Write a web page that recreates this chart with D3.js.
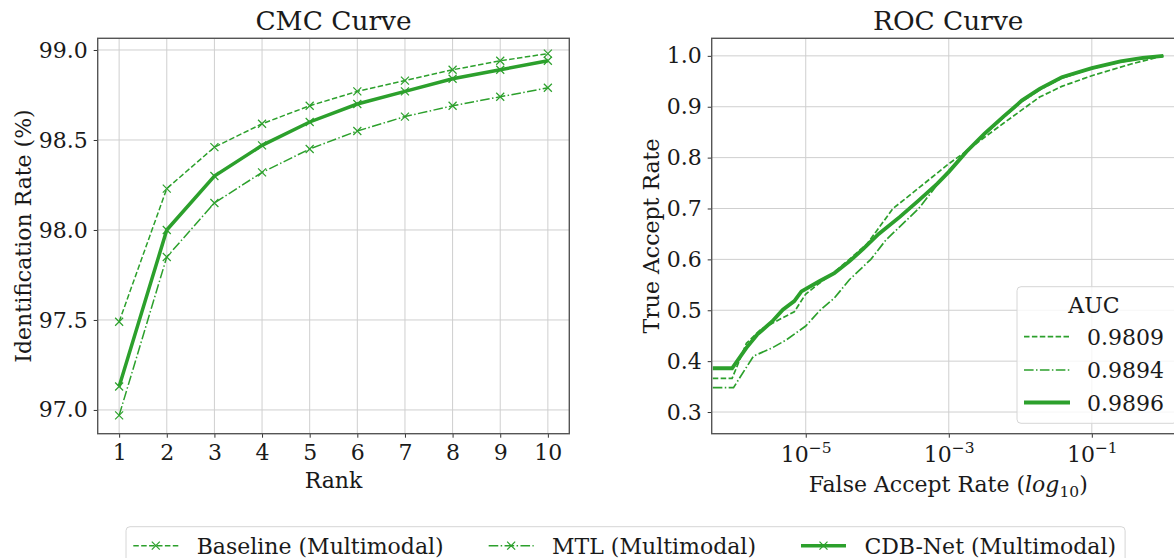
<!DOCTYPE html>
<html>
<head>
<meta charset="utf-8">
<script src="https://cdn.jsdelivr.net/npm/d3@7"></script>
<style>
  body { margin: 0; background: #fff; }
  svg text { font-family: "DejaVu Serif", serif; fill: #1a1a1a; }
</style>
</head>
<body>
<svg width="1174" height="558"></svg>
<script>
// ---- data ----
const ranks = [1, 2, 3, 4, 5, 6, 7, 8, 9, 10];
const cmcBaseline = [97.49, 98.23, 98.46, 98.59, 98.69, 98.77, 98.83, 98.89, 98.94, 98.98];
const cmcMTL      = [96.97, 97.85, 98.15, 98.32, 98.45, 98.55, 98.63, 98.69, 98.74, 98.79];
const cmcCDB      = [97.13, 98.00, 98.30, 98.47, 98.60, 98.70, 98.77, 98.84, 98.89, 98.94];
const cmcYTicks = [97.0, 97.5, 98.0, 98.5, 99.0];

// ROC: false accept rate as log10 exponent, true accept rate
const rocBaselineLogFar = [-6.30, -6.03, -5.83, -5.63, -5.42, -5.16, -5.00, -4.80, -4.60, -4.39, -4.14, -3.78, -3.52, -3.00, -2.80, -2.50, -2.24, -1.73, -1.42, -1.00, -0.45, 0.00];
const rocBaselineTar    = [0.366, 0.366, 0.435, 0.462, 0.478, 0.497, 0.532, 0.554, 0.575, 0.600, 0.631, 0.700, 0.729, 0.788, 0.808, 0.840, 0.867, 0.919, 0.940, 0.961, 0.984, 1.000];
const rocMTLLogFar = [-6.30, -6.01, -5.73, -5.47, -5.27, -5.00, -4.80, -4.60, -4.39, -4.09, -3.88, -3.42, -3.11, -2.75, -2.50, -2.24, -1.98, -1.73, -1.42, -1.00, -0.60, 0.00];
const rocMTLTar    = [0.348, 0.348, 0.410, 0.426, 0.442, 0.469, 0.500, 0.524, 0.560, 0.600, 0.638, 0.700, 0.756, 0.814, 0.845, 0.878, 0.910, 0.933, 0.956, 0.975, 0.988, 1.000];
const rocCDBLogFar = [-6.30, -6.03, -5.83, -5.68, -5.47, -5.32, -5.16, -5.06, -4.81, -4.60, -4.39, -4.20, -3.98, -3.68, -3.42, -3.16, -3.00, -2.75, -2.50, -2.24, -1.98, -1.73, -1.42, -1.00, -0.60, -0.29, 0.00];
const rocCDBTar    = [0.386, 0.386, 0.426, 0.452, 0.478, 0.501, 0.518, 0.537, 0.557, 0.573, 0.596, 0.620, 0.650, 0.684, 0.716, 0.749, 0.772, 0.812, 0.847, 0.880, 0.912, 0.935, 0.958, 0.976, 0.989, 0.996, 1.000];
const rocXTickExps = [-5, -3, -1];
const rocYTicks = [0.3, 0.4, 0.5, 0.6, 0.7, 0.8, 0.9, 1.0];

const seriesNames = ["Baseline (Multimodal)", "MTL (Multimodal)", "CDB-Net (Multimodal)"];
const aucLabels = ["0.9809", "0.9894", "0.9896"];

// ---- styles ----
const green = "#2ca02c";
const styles = [
  { dash: "5.5,2.4", width: 1.5 },
  { dash: "9.6,2.4,1.5,2.4", width: 1.5 },
  { dash: null, width: 3.5 }
];
const fs = 22;

const svg = d3.select("svg");
const cmcBox = { left: 97.7, right: 569.3, top: 38.3, bottom: 433.7 };
const rocBox = { left: 711.7, right: 1184.8, top: 38.3, bottom: 433.7 };

function frame(g, box) {
  g.append("rect")
    .attr("x", box.left).attr("y", box.top)
    .attr("width", box.right - box.left).attr("height", box.bottom - box.top)
    .attr("fill", "none").attr("stroke", "#555").attr("stroke-width", 1.4);
}

function xMarker(sel, size) {
  sel.attr("d", `M${-size},${-size}L${size},${size}M${-size},${size}L${size},${-size}`)
    .attr("fill", "none").attr("stroke", green).attr("stroke-width", 1.2);
}

// ---- CMC ----
const cmc = svg.append("g");
const xC = d3.scaleLinear().domain([0.55, 10.45]).range([cmcBox.left, cmcBox.right]);
const yC = d3.scaleLinear().domain([96.868, 99.065]).range([cmcBox.bottom, cmcBox.top]);

cmc.append("g").selectAll("line.gx").data(ranks).join("line")
  .attr("x1", d => xC(d)).attr("x2", d => xC(d))
  .attr("y1", cmcBox.top).attr("y2", cmcBox.bottom)
  .attr("stroke", "#cfcfcf").attr("stroke-width", 1);
cmc.append("g").selectAll("line.gy").data(cmcYTicks).join("line")
  .attr("x1", cmcBox.left).attr("x2", cmcBox.right)
  .attr("y1", d => yC(d)).attr("y2", d => yC(d))
  .attr("stroke", "#cfcfcf").attr("stroke-width", 1);

const cmcAxisX = cmc.append("g").attr("transform", `translate(0,${cmcBox.bottom})`)
  .call(d3.axisBottom(xC).tickValues(ranks).tickSize(4).tickPadding(6));
const cmcAxisY = cmc.append("g").attr("transform", `translate(${cmcBox.left},0)`)
  .call(d3.axisLeft(yC).tickValues(cmcYTicks).tickFormat(d3.format(".1f")).tickSize(4).tickPadding(6));
[cmcAxisX, cmcAxisY].forEach(a => {
  a.select(".domain").remove();
  a.selectAll(".tick line").attr("stroke", "#333");
  a.selectAll(".tick text").attr("font-size", fs).attr("font-family", "DejaVu Serif").attr("fill", "#1a1a1a");
});
cmcAxisX.selectAll(".tick text").attr("dy", "0.73em");

const cmcSeries = [cmcBaseline, cmcMTL, cmcCDB];
const lineC = d3.line().x((d, i) => xC(ranks[i])).y(d => yC(d));
cmcSeries.forEach((vals, k) => {
  cmc.append("path").datum(vals)
    .attr("d", lineC).attr("fill", "none").attr("stroke", green)
    .attr("stroke-width", styles[k].width)
    .attr("stroke-dasharray", styles[k].dash);
  cmc.append("g").selectAll("path").data(vals).join("path")
    .attr("transform", (d, i) => `translate(${xC(ranks[i])},${yC(d)})`)
    .call(xMarker, 4);
});
frame(cmc, cmcBox);

cmc.append("text").attr("x", (cmcBox.left + cmcBox.right) / 2).attr("y", 30)
  .attr("text-anchor", "middle").attr("font-size", 26.4).text("CMC Curve");
cmc.append("text").attr("x", (cmcBox.left + cmcBox.right) / 2).attr("y", 488)
  .attr("text-anchor", "middle").attr("font-size", fs).text("Rank");
cmc.append("text").attr("transform", `translate(31,${(cmcBox.top + cmcBox.bottom) / 2}) rotate(-90)`)
  .attr("text-anchor", "middle").attr("font-size", fs).text("Identification Rate (%)");

// ---- ROC ----
const roc = svg.append("g");
const xR = d3.scaleLog().domain([Math.pow(10, -6.315), Math.pow(10, 0.3)]).range([rocBox.left, rocBox.right]);
const yR = d3.scaleLinear().domain([0.2574, 1.0345]).range([rocBox.bottom, rocBox.top]);
const rocXTicks = rocXTickExps.map(e => Math.pow(10, e));

roc.append("g").selectAll("line").data(rocXTicks).join("line")
  .attr("x1", d => xR(d)).attr("x2", d => xR(d))
  .attr("y1", rocBox.top).attr("y2", rocBox.bottom)
  .attr("stroke", "#cfcfcf").attr("stroke-width", 1);
roc.append("g").selectAll("line").data(rocYTicks).join("line")
  .attr("x1", rocBox.left).attr("x2", rocBox.right)
  .attr("y1", d => yR(d)).attr("y2", d => yR(d))
  .attr("stroke", "#cfcfcf").attr("stroke-width", 1);

const rocAxisY = roc.append("g").attr("transform", `translate(${rocBox.left},0)`)
  .call(d3.axisLeft(yR).tickValues(rocYTicks).tickFormat(d3.format(".1f")).tickSize(4).tickPadding(6));
const rocAxisX = roc.append("g").attr("transform", `translate(0,${rocBox.bottom})`)
  .call(d3.axisBottom(xR).tickValues(rocXTicks).tickFormat("").tickSize(4));
[rocAxisX, rocAxisY].forEach(a => {
  a.select(".domain").remove();
  a.selectAll(".tick line").attr("stroke", "#333");
  a.selectAll(".tick text").attr("font-size", fs).attr("font-family", "DejaVu Serif").attr("fill", "#1a1a1a");
});
// exponent tick labels 10^e
rocAxisX.selectAll(".tick").each(function (d, i) {
  const t = d3.select(this).append("text").attr("y", 28).attr("text-anchor", "middle")
    .attr("font-size", fs).attr("fill", "#1a1a1a");
  t.append("tspan").text("10");
  t.append("tspan").attr("dy", -9).attr("font-size", 15.5).text("\u2212" + Math.abs(rocXTickExps[i]));
});

const rocSeries = [
  [rocBaselineLogFar, rocBaselineTar],
  [rocMTLLogFar, rocMTLTar],
  [rocCDBLogFar, rocCDBTar]
];
const lineR = d3.line().x(d => xR(Math.pow(10, d[0]))).y(d => yR(d[1]));
rocSeries.forEach(([far, tar], k) => {
  const pts = far.map((f, i) => [f, tar[i]]);
  roc.append("path").datum(pts)
    .attr("d", lineR).attr("fill", "none").attr("stroke", green)
    .attr("stroke-width", k === 2 ? 3.8 : 1.7)
    .attr("stroke-dasharray", styles[k].dash);
});
frame(roc, rocBox);

const rocMid = (rocBox.left + rocBox.right) / 2;
roc.append("text").attr("x", rocMid).attr("y", 30)
  .attr("text-anchor", "middle").attr("font-size", 26.4).text("ROC Curve");
const xl = roc.append("text").attr("x", rocMid).attr("y", 492)
  .attr("text-anchor", "middle").attr("font-size", fs);
xl.append("tspan").text("False Accept Rate (");
xl.append("tspan").attr("font-style", "italic").text("log");
xl.append("tspan").attr("dy", 5).attr("font-size", 15.5).text("10");
xl.append("tspan").attr("dy", -5).text(")");
roc.append("text").attr("transform", `translate(659,${(rocBox.top + rocBox.bottom) / 2}) rotate(-90)`)
  .attr("text-anchor", "middle").attr("font-size", fs).text("True Accept Rate");

// ROC legend (AUC)
const leg = roc.append("g");
leg.append("rect").attr("x", 1017).attr("y", 286.7).attr("width", 160).attr("height", 136.6)
  .attr("rx", 4).attr("fill", "#fff").attr("fill-opacity", 0.8)
  .attr("stroke", "#d6d6d6").attr("stroke-width", 1);
leg.append("text").attr("x", 1094).attr("y", 313).attr("text-anchor", "middle")
  .attr("font-size", fs).text("AUC");
const legRowY = [336.7, 370, 402.5];
aucLabels.forEach((lab, k) => {
  leg.append("line").attr("x1", 1024).attr("x2", 1070).attr("y1", legRowY[k]).attr("y2", legRowY[k])
    .attr("stroke", green).attr("stroke-width", k === 2 ? 3.8 : 1.7)
    .attr("stroke-dasharray", styles[k].dash);
  leg.append("text").attr("x", 1087).attr("y", legRowY[k] + 8).attr("font-size", fs).text(lab);
});

// ---- bottom figure legend ----
const bl = svg.append("g");
const blRect = bl.append("rect").attr("x", 126).attr("y", 526.7).attr("height", 45)
  .attr("rx", 4).attr("fill", "#fff").attr("stroke", "#d6d6d6").attr("stroke-width", 1);
let cx = 133.3;
const handleY = 545.7;
seriesNames.forEach((name, k) => {
  bl.append("line").attr("x1", cx).attr("x2", cx + 45).attr("y1", handleY).attr("y2", handleY)
    .attr("stroke", green).attr("stroke-width", styles[k].width)
    .attr("stroke-dasharray", styles[k].dash);
  bl.append("path").attr("transform", `translate(${cx + 22.5},${handleY})`).call(xMarker, 4);
  const t = bl.append("text").attr("x", cx + 63.4).attr("y", handleY + 8).attr("font-size", fs).text(name);
  const w = t.node().getComputedTextLength();
  cx = cx + 63.4 + w + 45;
});
blRect.attr("width", cx - 45 + 9 - 126);
</script>
</body>
</html>
